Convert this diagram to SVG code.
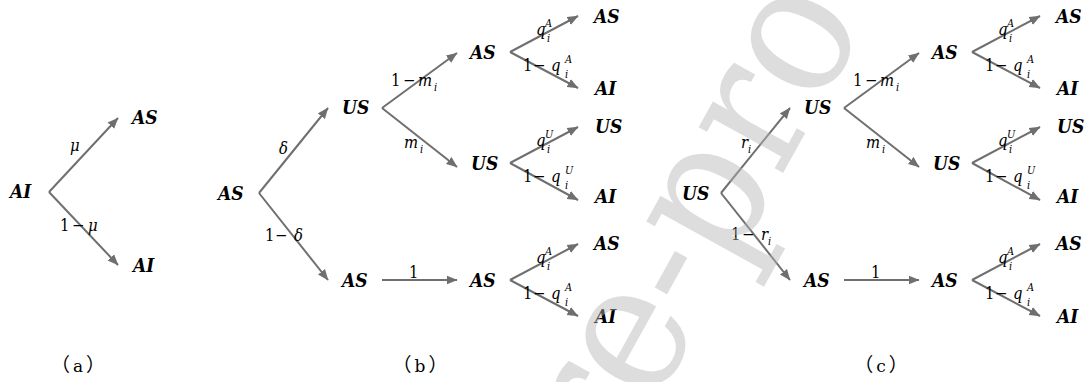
<svg xmlns="http://www.w3.org/2000/svg" width="1086" height="382" viewBox="0 0 1086 382">
  <style>
    .st { font-family: "DejaVu Serif Condensed", "DejaVu Serif", serif; font-size: 19px; font-weight: bold; font-style: italic; fill: #000; }
    .lb { font-family: "DejaVu Serif Condensed", "DejaVu Serif", serif; font-size: 16.5px; fill: #000; }
    .v { font-style: italic; }
    .sm { font-family: "DejaVu Serif Condensed", "DejaVu Serif", serif; font-size: 11px; font-style: italic; fill: #000; }
    .cap { font-family: "DejaVu Serif", serif; font-size: 17px; fill: #000; }
    .par { font-family: "Noto Sans CJK SC", sans-serif; font-size: 19px; }
    .edge { stroke: #6f6f6f; stroke-width: 2; fill: none; marker-end: url(#ah); }
    .wm { font-family: "DejaVu Serif Condensed", "DejaVu Serif", serif; font-size: 185px; fill: #b4b4b4; fill-opacity: 0.45; }
  </style>
  <defs>
    <marker id="ah" markerUnits="userSpaceOnUse" markerWidth="12" markerHeight="10" refX="10.5" refY="5" orient="auto">
      <path d="M0,0.5 L11,5 L0,9.5 z" fill="#6f6f6f"/>
    </marker>
  </defs>
  <rect width="1086" height="382" fill="#fff"/>

  <!-- connectors -->
  <g id="connectors">
    <!-- (a) -->
    <path class="edge" d="M49,192 L118,118"/>
    <path class="edge" d="M49,192 L118,265"/>
    <!-- (b) -->
    <path class="edge" d="M259,193 L328,108"/>
    <path class="edge" d="M259,193 L328,280"/>
    <path class="edge" d="M382,108 L457,53"/>
    <path class="edge" d="M382,108 L457,167"/>
    <path class="edge" d="M382,280 L457,280"/>
    <path class="edge" d="M510,52 L578,16"/>
    <path class="edge" d="M510,52 L578,88"/>
    <path class="edge" d="M510,163 L578,127"/>
    <path class="edge" d="M510,163 L578,200"/>
    <path class="edge" d="M510,280 L578,244"/>
    <path class="edge" d="M510,280 L578,316"/>
    <!-- (c) -->
    <path class="edge" d="M721,193 L790,108"/>
    <path class="edge" d="M721,193 L790,280"/>
    <path class="edge" d="M844,108 L919,53"/>
    <path class="edge" d="M844,108 L919,167"/>
    <path class="edge" d="M844,280 L919,280"/>
    <path class="edge" d="M972,52 L1040,16"/>
    <path class="edge" d="M972,52 L1040,88"/>
    <path class="edge" d="M972,163 L1040,127"/>
    <path class="edge" d="M972,163 L1040,200"/>
    <path class="edge" d="M972,280 L1040,244"/>
    <path class="edge" d="M972,280 L1040,316"/>
  </g>

  <!-- edge labels -->
  <g id="edge-labels">
    <!-- (a) -->
    <text class="lb v" x="70" y="151">μ</text>
    <text class="lb" y="231"><tspan x="60">1</tspan><tspan x="72">−</tspan><tspan x="88" class="v">μ</tspan></text>
    <!-- (b) -->
    <text class="lb v" x="279" y="154">δ</text>
    <text class="lb" y="241"><tspan x="265">1</tspan><tspan x="275">−</tspan><tspan x="294" class="v">δ</tspan></text>
    <text class="lb" y="86"><tspan x="391">1</tspan><tspan x="403">−</tspan><tspan x="418" class="v">m</tspan></text>
    <text class="sm" x="434" y="91">i</text>
    <text class="lb v" x="404" y="148">m</text>
    <text class="sm" x="420" y="153">i</text>
    <text class="lb" x="409" y="278">1</text>

    <text class="lb v" x="536" y="35">q</text><text class="sm" x="545" y="27">A</text><text class="sm" x="547" y="42">i</text>
    <text class="lb" y="71"><tspan x="523">1</tspan><tspan x="533">−</tspan><tspan x="551" class="v">q</tspan></text><text class="sm" x="565" y="63">A</text><text class="sm" x="565" y="78">i</text>
    <text class="lb v" x="536" y="146">q</text><text class="sm" x="545" y="138">U</text><text class="sm" x="547" y="153">i</text>
    <text class="lb" y="182"><tspan x="523">1</tspan><tspan x="533">−</tspan><tspan x="551" class="v">q</tspan></text><text class="sm" x="565" y="174">U</text><text class="sm" x="565" y="189">i</text>
    <text class="lb v" x="536" y="263">q</text><text class="sm" x="545" y="255">A</text><text class="sm" x="547" y="270">i</text>
    <text class="lb" y="299"><tspan x="523">1</tspan><tspan x="533">−</tspan><tspan x="551" class="v">q</tspan></text><text class="sm" x="565" y="291">A</text><text class="sm" x="565" y="306">i</text>
    <!-- (c) -->
    <text class="lb v" x="741" y="148">r</text>
    <text class="sm" x="748" y="153">i</text>
    <text class="lb" y="240"><tspan x="731">1</tspan><tspan x="742">−</tspan><tspan x="761" class="v">r</tspan></text>
    <text class="sm" x="768" y="245">i</text>
    <text class="lb" y="86"><tspan x="853">1</tspan><tspan x="865">−</tspan><tspan x="880" class="v">m</tspan></text>
    <text class="sm" x="896" y="91">i</text>
    <text class="lb v" x="866" y="148">m</text>
    <text class="sm" x="882" y="153">i</text>
    <text class="lb" x="871" y="278">1</text>

    <text class="lb v" x="998" y="35">q</text><text class="sm" x="1007" y="27">A</text><text class="sm" x="1009" y="42">i</text>
    <text class="lb" y="71"><tspan x="985">1</tspan><tspan x="995">−</tspan><tspan x="1013" class="v">q</tspan></text><text class="sm" x="1027" y="63">A</text><text class="sm" x="1027" y="78">i</text>
    <text class="lb v" x="998" y="146">q</text><text class="sm" x="1007" y="138">U</text><text class="sm" x="1009" y="153">i</text>
    <text class="lb" y="182"><tspan x="985">1</tspan><tspan x="995">−</tspan><tspan x="1013" class="v">q</tspan></text><text class="sm" x="1027" y="174">U</text><text class="sm" x="1027" y="189">i</text>
    <text class="lb v" x="998" y="263">q</text><text class="sm" x="1007" y="255">A</text><text class="sm" x="1009" y="270">i</text>
    <text class="lb" y="299"><tspan x="985">1</tspan><tspan x="995">−</tspan><tspan x="1013" class="v">q</tspan></text><text class="sm" x="1027" y="291">A</text><text class="sm" x="1027" y="306">i</text>
  </g>

  <!-- nodes (a) -->
  <g id="a-root"><text class="st" x="10" y="198">AI</text></g>
  <g id="a-as"><text class="st" x="132" y="124">AS</text></g>
  <g id="a-ai"><text class="st" x="133" y="272">AI</text></g>

  <!-- nodes (b) -->
  <g id="b-root"><text class="st" x="218" y="200">AS</text></g>
  <g id="b-us"><text class="st" x="342" y="114">US</text></g>
  <g id="b-as"><text class="st" x="342" y="287">AS</text></g>
  <g id="b-us-as"><text class="st" x="470" y="59">AS</text></g>
  <g id="b-us-us"><text class="st" x="471" y="170">US</text></g>
  <g id="b-as-as"><text class="st" x="470" y="287">AS</text></g>
  <g id="b-r1"><text class="st" x="594" y="23">AS</text></g>
  <g id="b-r2"><text class="st" x="595" y="95">AI</text></g>
  <g id="b-r3"><text class="st" x="595" y="133">US</text></g>
  <g id="b-r4"><text class="st" x="595" y="203">AI</text></g>
  <g id="b-r5"><text class="st" x="594" y="250">AS</text></g>
  <g id="b-r6"><text class="st" x="595" y="323">AI</text></g>

  <!-- nodes (c) -->
  <g id="c-root"><text class="st" x="682" y="200">US</text></g>
  <g id="c-us"><text class="st" x="804" y="114">US</text></g>
  <g id="c-as"><text class="st" x="804" y="287">AS</text></g>
  <g id="c-us-as"><text class="st" x="932" y="59">AS</text></g>
  <g id="c-us-us"><text class="st" x="933" y="170">US</text></g>
  <g id="c-as-as"><text class="st" x="932" y="287">AS</text></g>
  <g id="c-r1"><text class="st" x="1056" y="23">AS</text></g>
  <g id="c-r2"><text class="st" x="1057" y="95">AI</text></g>
  <g id="c-r3"><text class="st" x="1057" y="133">US</text></g>
  <g id="c-r4"><text class="st" x="1057" y="203">AI</text></g>
  <g id="c-r5"><text class="st" x="1056" y="250">AS</text></g>
  <g id="c-r6"><text class="st" x="1057" y="323">AI</text></g>

  <!-- panel captions -->
  <g id="captions">
    <text class="cap" x="78" y="372" text-anchor="middle"><tspan class="par">（</tspan><tspan dx="3">a</tspan><tspan class="par" dx="3">）</tspan></text>
    <text class="cap" x="420" y="372" text-anchor="middle"><tspan class="par">（</tspan><tspan dx="3">b</tspan><tspan class="par" dx="3">）</tspan></text>
    <text class="cap" x="881" y="372" text-anchor="middle"><tspan class="par">（</tspan><tspan dx="3">c</tspan><tspan class="par" dx="3">）</tspan></text>
  </g>

  <!-- watermark -->
  <g id="watermark">
    <text class="wm" transform="translate(614.5,477) rotate(-61)">re-pro</text>
  </g>
</svg>
